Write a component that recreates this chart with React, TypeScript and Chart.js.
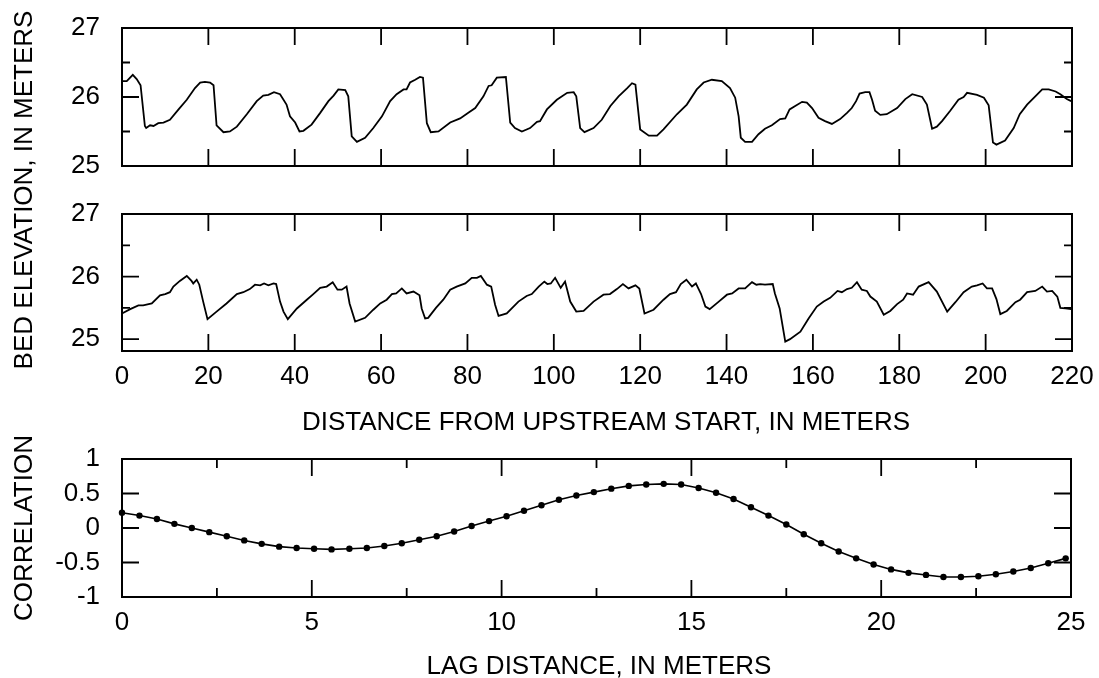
import React, { useEffect, useRef } from "react";
import { Chart, registerables } from "chart.js";

Chart.register(...registerables);

const FONT = '"Liberation Sans", Arial, Helvetica, sans-serif';

// ---------- Upper profile (bed elevation, m) ----------
const upperDist = [
  0, 1.1, 2.5, 3.4, 4.3, 5.3, 5.6, 6.5, 7.3, 8.4, 9.6, 11.1, 13.1, 15.0, 16.9, 18.1, 19.2, 20.4, 21.2, 21.9,
  23.5, 25.0, 26.6, 28.9, 31.2, 32.7, 33.9, 35.2, 36.6, 38.1, 38.9, 40.1, 41.1, 42.0, 43.9, 45.9, 47.8, 49.0,
  50.1, 51.7, 52.4, 53.2, 54.4, 56.3, 58.2, 60.2, 62.1, 63.6, 65.2, 65.9, 66.7, 67.9, 69.0, 69.7, 70.6, 71.5,
  73.3, 76.0, 78.3, 80.2, 81.8, 83.7, 84.9, 85.6, 86.8, 88.9, 89.9, 91.0, 92.6, 94.5, 96.1, 96.8, 98.4, 100.7,
  103.1, 104.6, 105.2, 106.1, 107.1, 109.2, 111.1, 113.1, 115.0, 117.0, 118.1, 118.9, 120.0, 122.0, 123.9,
  125.4, 128.5, 130.8, 133.1, 134.7, 136.6, 138.9, 140.8, 142.0, 142.8, 143.3, 144.3, 145.9, 147.4, 148.9,
  150.5, 152.4, 153.6, 154.6, 155.9, 157.5, 158.6, 159.8, 161.3, 162.8, 164.4, 166.3, 167.9, 169.0, 170.0,
  170.8, 172.1, 173.1, 173.7, 174.4, 175.6, 177.1, 179.5, 181.4, 183.0, 185.3, 186.4, 187.6, 188.7, 189.9,
  191.8, 193.7, 194.9, 195.7, 198.0, 199.6, 200.7, 201.7, 202.5, 204.5, 206.5, 207.9, 209.6, 211.5, 213.1,
  214.6, 216.2, 217.3, 218.8, 219.8,
];
const upperElev = [
  26.23, 26.23, 26.32, 26.26, 26.17, 25.58, 25.55, 25.59, 25.58, 25.62, 25.63, 25.67, 25.82, 25.96, 26.13, 26.21,
  26.22, 26.21, 26.17, 25.59, 25.49, 25.5, 25.57, 25.75, 25.94, 26.02, 26.03, 26.07, 26.04, 25.89, 25.72, 25.63,
  25.5, 25.51, 25.6, 25.77, 25.94, 26.02, 26.11, 26.1, 26.01, 25.43, 25.35, 25.41, 25.55, 25.72, 25.94, 26.04,
  26.11, 26.11, 26.21, 26.25, 26.29, 26.28, 25.62, 25.49, 25.5, 25.63, 25.69, 25.77, 25.84, 26.01, 26.16, 26.17,
  26.28, 26.29, 25.63, 25.55, 25.5, 25.55, 25.64, 25.65, 25.82, 25.96, 26.06, 26.07, 26.01, 25.55, 25.49, 25.55,
  25.67, 25.87, 26.01, 26.13, 26.2, 26.18, 25.53, 25.44, 25.44, 25.53, 25.75, 25.89, 26.11, 26.21, 26.25, 26.23,
  26.13, 25.99, 25.72, 25.41, 25.35, 25.35, 25.46, 25.54, 25.59, 25.68, 25.69, 25.82, 25.87, 25.93, 25.92, 25.84,
  25.7, 25.65, 25.61, 25.68, 25.77, 25.84, 25.94, 26.05, 26.07, 26.07, 25.96, 25.8, 25.74, 25.75, 25.84, 25.97,
  26.04, 26.0, 25.89, 25.54, 25.57, 25.65, 25.8, 25.96, 26.0, 26.06, 26.03, 25.99, 25.88, 25.34, 25.31, 25.37,
  25.55, 25.75, 25.89, 26.01, 26.11, 26.11, 26.08, 26.04, 25.97, 25.94,
];

// ---------- Lower profile (bed elevation, m) ----------
const lowerDist = [
  0, 1.9, 3.8, 4.9, 6.9, 8.8, 10.0, 11.1, 11.9, 13.4, 15.0, 16.1, 16.5, 17.3, 17.9, 18.8, 19.8, 21.9, 24.2,
  26.6, 28.1, 29.6, 30.8, 32.0, 32.9, 33.9, 35.1, 35.7, 36.6, 37.4, 38.4, 40.5, 42.8, 44.3, 45.9, 47.4, 48.8,
  49.9, 50.9, 52.0, 52.7, 54.0, 56.3, 58.2, 59.8, 61.3, 62.5, 63.5, 64.8, 65.9, 67.5, 68.9, 69.4, 70.2, 70.9,
  72.7, 74.4, 76.0, 77.5, 79.5, 81.0, 82.2, 83.1, 84.5, 85.5, 86.4, 87.2, 89.1, 91.8, 93.7, 94.9, 96.5, 97.8,
  98.5, 99.3, 100.3, 101.6, 102.6, 103.8, 105.2, 106.9, 109.2, 111.5, 113.0, 114.6, 116.0, 117.3, 118.9, 119.8,
  121.0, 123.1, 125.4, 126.9, 128.3, 129.4, 130.7, 132.0, 132.9, 134.1, 135.1, 136.1, 138.2, 140.1, 141.3,
  142.8, 144.3, 145.9, 146.9, 147.8, 148.9, 150.7, 151.2, 152.3, 153.6, 154.7, 157.1, 159.0, 160.9, 162.5,
  164.0, 165.7, 166.7, 167.9, 169.0, 170.2, 171.3, 172.5, 173.3, 174.8, 176.4, 177.9, 179.5, 180.9, 181.8,
  183.2, 184.5, 186.8, 188.7, 191.1, 193.0, 194.9, 196.8, 198.0, 199.3, 200.3, 201.5, 202.5, 203.4, 204.9,
  206.9, 208.0, 209.6, 211.5, 213.1, 214.2, 215.4, 216.6, 217.3, 218.5, 219.8,
];
const lowerElev = [
  25.41, 25.48, 25.54, 25.54, 25.57, 25.7, 25.72, 25.75, 25.84, 25.93, 26.01, 25.93, 25.89, 25.95, 25.87, 25.6,
  25.32, 25.44, 25.57, 25.72, 25.75, 25.8, 25.87, 25.86, 25.89, 25.86, 25.89, 25.88, 25.6, 25.44, 25.32, 25.49,
  25.63, 25.72, 25.82, 25.84, 25.91, 25.79, 25.79, 25.84, 25.57, 25.28, 25.34, 25.47, 25.57, 25.63, 25.72, 25.73,
  25.81, 25.73, 25.76, 25.7, 25.49, 25.33, 25.34, 25.5, 25.63, 25.79, 25.84, 25.89, 25.98, 25.98, 26.01, 25.87,
  25.84, 25.55, 25.37, 25.41, 25.6, 25.69, 25.72, 25.84, 25.92, 25.88, 25.89, 25.98, 25.82, 25.92, 25.6, 25.44,
  25.45, 25.6, 25.71, 25.72, 25.8, 25.88, 25.81, 25.86, 25.81, 25.41, 25.47, 25.63, 25.72, 25.75, 25.88, 25.95,
  25.84, 25.89, 25.72, 25.52, 25.48, 25.6, 25.71, 25.73, 25.81, 25.81, 25.91, 25.87, 25.88, 25.87, 25.88, 25.73,
  25.49, 24.96, 25.0, 25.12, 25.33, 25.52, 25.6, 25.66, 25.77, 25.75, 25.8, 25.82, 25.91, 25.79, 25.77, 25.68,
  25.6, 25.39, 25.45, 25.56, 25.63, 25.73, 25.71, 25.84, 25.91, 25.76, 25.44, 25.59, 25.75, 25.84, 25.86, 25.89,
  25.81, 25.81, 25.64, 25.4, 25.45, 25.59, 25.63, 25.75, 25.77, 25.84, 25.76, 25.77, 25.68, 25.5, 25.49, 25.48,
];

// ---------- Correlation vs lag ----------
const lagDist = [
  0, 0.46, 0.92, 1.38, 1.84, 2.3, 2.76, 3.22, 3.68, 4.14, 4.6, 5.06, 5.52, 5.99, 6.45, 6.91, 7.37, 7.83, 8.29,
  8.75, 9.21, 9.67, 10.13, 10.59, 11.05, 11.51, 11.97, 12.43, 12.89, 13.35, 13.81, 14.27, 14.73, 15.19, 15.65,
  16.11, 16.57, 17.03, 17.5, 17.96, 18.42, 18.88, 19.34, 19.8, 20.26, 20.72, 21.18, 21.64, 22.1, 22.56, 23.02,
  23.48, 23.94, 24.4, 24.86,
];
const correlation = [
  0.22, 0.18, 0.13, 0.06, 0.0, -0.06, -0.12, -0.18, -0.23, -0.27, -0.29, -0.3, -0.31, -0.3, -0.29, -0.26, -0.22,
  -0.17, -0.12, -0.05, 0.03, 0.1, 0.17, 0.25, 0.33, 0.41, 0.47, 0.52, 0.57, 0.61, 0.63, 0.64, 0.63, 0.58, 0.51,
  0.42, 0.3, 0.18, 0.05, -0.09, -0.22, -0.34, -0.44, -0.53, -0.6, -0.65, -0.68, -0.71, -0.71, -0.7, -0.67, -0.63,
  -0.58, -0.51, -0.44,
];

// ---------- Ticks ----------
const elevLabelTicks = [25, 26, 27];
const elevMajorTicks = [25, 26];
const elevMinorTicks = [25.5, 26.5];
const distTicks = [0, 20, 40, 60, 80, 100, 120, 140, 160, 180, 200, 220];
const lagTicks = [0, 5, 10, 15, 20, 25];
const lagMinorTicks = [2.5, 7.5, 12.5, 17.5, 22.5];
const corrTicks = [-1, -0.5, 0, 0.5, 1];

const TITLE_DIST = "DISTANCE FROM UPSTREAM START, IN METERS";
const TITLE_LAG = "LAG DISTANCE, IN METERS";
const TITLE_ELEV = "BED ELEVATION, IN METERS";
const TITLE_CORR = "CORRELATION";

type TickSpec = { v: number; len: number };

function framePlugin(xTicks: TickSpec[], yTicks: TickSpec[]) {
  return {
    id: "frameTicks",
    afterDatasetsDraw(chart: any) {
      const { ctx, chartArea: a, scales } = chart;
      const xs = scales.x;
      const ys = scales.y;
      ctx.save();
      ctx.strokeStyle = "#000";
      ctx.lineWidth = 1.8;
      ctx.beginPath();
      xTicks.forEach(({ v, len }) => {
        const p = xs.getPixelForValue(v);
        ctx.moveTo(p, a.top);
        ctx.lineTo(p, a.top + len);
        ctx.moveTo(p, a.bottom);
        ctx.lineTo(p, a.bottom - len);
      });
      yTicks.forEach(({ v, len }) => {
        const p = ys.getPixelForValue(v);
        ctx.moveTo(a.left, p);
        ctx.lineTo(a.left + len, p);
        ctx.moveTo(a.right, p);
        ctx.lineTo(a.right - len, p);
      });
      ctx.stroke();
      ctx.lineWidth = 2;
      ctx.strokeRect(a.left, a.top, a.right - a.left, a.bottom - a.top);
      ctx.restore();
    },
  };
}

const tickFont = { family: FONT, size: 26 };

function yScale(min: number, max: number, labels: number[]) {
  return {
    type: "linear",
    min,
    max,
    afterBuildTicks: (s: any) => {
      s.ticks = labels.map((value) => ({ value }));
    },
    afterFit: (s: any) => {
      s.width = 122;
      s.paddingTop = 0;
      s.paddingBottom = 0;
      s.paddingLeft = 0;
      s.paddingRight = 0;
    },
    grid: { display: false, drawTicks: false },
    border: { display: false },
    ticks: {
      font: tickFont,
      color: "#000",
      padding: 22,
      callback: (v: any) => String(v),
    },
  };
}

function xScale(min: number, max: number, labels: number[], show: boolean) {
  return {
    type: "linear",
    min,
    max,
    display: show,
    afterBuildTicks: (s: any) => {
      s.ticks = labels.map((value) => ({ value }));
    },
    afterFit: (s: any) => {
      s.height = show ? 40 : 0;
      s.paddingTop = 0;
      s.paddingBottom = 0;
      s.paddingLeft = 0;
      s.paddingRight = 0;
    },
    grid: { display: false, drawTicks: false },
    border: { display: false },
    ticks: {
      font: tickFont,
      color: "#000",
      padding: 10,
      maxRotation: 0,
      minRotation: 0,
      autoSkip: false,
      callback: (v: any) => String(v),
    },
  };
}

function baseOptions(padding: any, scales: any) {
  return {
    responsive: false,
    maintainAspectRatio: false,
    animation: false,
    devicePixelRatio: 1,
    events: [],
    layout: { padding },
    plugins: { legend: { display: false }, tooltip: { enabled: false }, title: { display: false } },
    scales,
  };
}

function pts(xs: number[], ys: number[]) {
  return xs.map((x, i) => ({ x, y: ys[i] }));
}

function lineDataset(xs: number[], ys: number[]) {
  return {
    data: pts(xs, ys),
    borderColor: "#000",
    borderWidth: 1.8,
    pointRadius: 0,
    tension: 0,
    fill: false,
  };
}

function upperConfig(): any {
  return {
    type: "line",
    data: { datasets: [lineDataset(upperDist, upperElev)] },
    options: baseOptions(
      { top: 28, right: 27, bottom: 34, left: 0 },
      { x: xScale(0, 220, distTicks, false), y: yScale(25, 27, elevLabelTicks) }
    ),
    plugins: [
      framePlugin(
        distTicks.map((v) => ({ v, len: 17 })),
        [...elevMajorTicks.map((v) => ({ v, len: 17 })), ...elevMinorTicks.map((v) => ({ v, len: 8 }))]
      ),
    ],
  };
}

function lowerConfig(): any {
  return {
    type: "line",
    data: { datasets: [lineDataset(lowerDist, lowerElev)] },
    options: baseOptions(
      { top: 14, right: 27, bottom: 49, left: 0 },
      { x: xScale(0, 220, distTicks, true), y: yScale(24.81, 27, elevLabelTicks) }
    ),
    plugins: [
      framePlugin(
        distTicks.map((v) => ({ v, len: 17 })),
        [...elevMajorTicks.map((v) => ({ v, len: 17 })), ...elevMinorTicks.map((v) => ({ v, len: 8 }))]
      ),
    ],
  };
}

function corrConfig(): any {
  return {
    type: "line",
    data: {
      datasets: [
        {
          data: pts(lagDist, correlation),
          borderColor: "#000",
          borderWidth: 1.6,
          pointRadius: 3.2,
          pointBackgroundColor: "#000",
          pointBorderColor: "#000",
          pointBorderWidth: 0,
          tension: 0,
          fill: false,
          clip: false,
        },
      ],
    },
    options: baseOptions(
      { top: 19, right: 28, bottom: 41, left: 0 },
      { x: xScale(0, 25, lagTicks, true), y: yScale(-1, 1, corrTicks) }
    ),
    plugins: [
      framePlugin(
        [...lagTicks.map((v) => ({ v, len: 17 })), ...lagMinorTicks.map((v) => ({ v, len: 9 }))],
        corrTicks.map((v) => ({ v, len: 17 }))
      ),
    ],
  };
}

function ChartCanvas({ top, height, build }: { top: number; height: number; build: () => any }) {
  const ref = useRef<HTMLCanvasElement>(null);
  useEffect(() => {
    const chart = new Chart(ref.current as HTMLCanvasElement, build());
    return () => chart.destroy();
  }, []);
  return (
    <canvas
      ref={ref}
      width={1099}
      height={height}
      style={{ position: "absolute", left: 0, top, width: 1099, height, display: "block" }}
    />
  );
}

const titleBase: React.CSSProperties = {
  position: "absolute",
  fontFamily: FONT,
  fontSize: 26,
  lineHeight: "30px",
  whiteSpace: "nowrap",
  color: "#000",
  transform: "translate(-50%, -50%)",
};

export default function App() {
  return (
    <div
      style={{
        position: "fixed",
        left: 0,
        top: 0,
        width: 1099,
        height: 678,
        background: "#fff",
        overflow: "hidden",
      }}
    >
      <ChartCanvas top={0} height={200} build={upperConfig} />
      <ChartCanvas top={200} height={240} build={lowerConfig} />
      <ChartCanvas top={440} height={238} build={corrConfig} />
      <div style={{ ...titleBase, left: 606, top: 421 }}>{TITLE_DIST}</div>
      <div style={{ ...titleBase, left: 599, top: 665 }}>{TITLE_LAG}</div>
      <div style={{ ...titleBase, left: 23, top: 190, transform: "translate(-50%, -50%) rotate(-90deg)" }}>
        {TITLE_ELEV}
      </div>
      <div style={{ ...titleBase, left: 23, top: 528, transform: "translate(-50%, -50%) rotate(-90deg)" }}>
        {TITLE_CORR}
      </div>
    </div>
  );
}
